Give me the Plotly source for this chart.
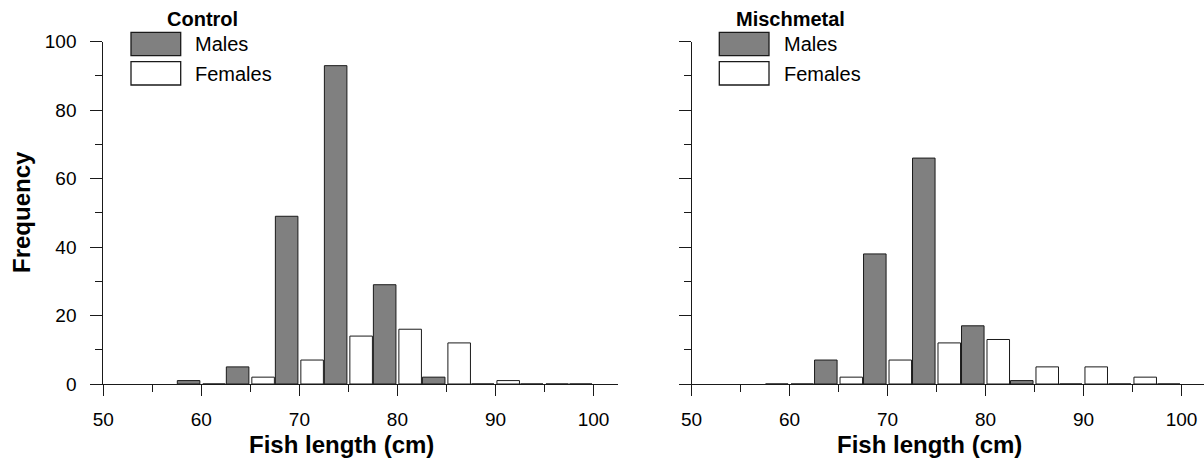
import plotly.graph_objects as go

# ---- data ----
bin_centers = [60, 65, 70, 75, 80, 85, 90, 95, 100]
control_males = [1, 5, 49, 93, 29, 2, 0, 0, 0]
control_females = [0, 2, 7, 14, 16, 12, 1, 0, None]
mischmetal_males = [0, 7, 38, 66, 17, 1, 0, 0, 0]
mischmetal_females = [0, 2, 7, 12, 13, 5, 5, 2, None]
panel_titles = ["Control", "Mischmetal"]
series_names = ["Males", "Females"]
x_ticks = [50, 60, 70, 80, 90, 100]
y_ticks = [0, 20, 40, 60, 80, 100]

W, H = 1204, 460
FONT = "Liberation Sans, Arial, Helvetica, sans-serif"
MALE_FILL = "#808080"
FEMALE_FILL = "#ffffff"
EDGE = "#1a1a1a"

def px(x):
    return x / W

def py(y):
    return 1 - y / H

# panel geometry (pixels)
y_top, y_bot = 41.7, 384.0
panels = [
    dict(x0=103.3, x1=618.0, xr=[50, 102.5]),
    dict(x0=691.6, x1=1204.0, xr=[50, 102.3]),
]

fig = go.Figure()

datasets = [(control_males, control_females), (mischmetal_males, mischmetal_females)]
for i, (males, females) in enumerate(datasets):
    xa = "x" if i == 0 else "x2"
    ya = "y" if i == 0 else "y2"
    fig.add_trace(go.Bar(
        x=bin_centers, y=males, name=series_names[0],
        offset=-2.45, width=2.3,
        marker=dict(color=MALE_FILL, line=dict(color=EDGE, width=1)),
        xaxis=xa, yaxis=ya, showlegend=False,
    ))
    fig.add_trace(go.Bar(
        x=bin_centers, y=females, name=series_names[1],
        offset=0.15, width=2.3,
        marker=dict(color=FEMALE_FILL, line=dict(color=EDGE, width=1)),
        xaxis=xa, yaxis=ya, showlegend=False,
    ))

def xaxis_cfg(p):
    return dict(
        domain=[px(p["x0"]), px(p["x1"])], range=p["xr"], automargin=False,
        tickvals=x_ticks, ticks="outside", ticklen=11, tickwidth=1, tickcolor=EDGE,
        minor=dict(tickvals=[55, 65, 75, 85, 95], ticks="outside", ticklen=7,
                   tickwidth=1, tickcolor=EDGE, showgrid=False),
        showline=True, linecolor=EDGE, linewidth=1,
        showgrid=False, zeroline=False,
        tickfont=dict(family=FONT, size=19, color="#000"),
        ticklabelstandoff=7,
    )

def yaxis_cfg(p, labels):
    return dict(
        domain=[py(y_bot), py(y_top)], range=[0, 100], automargin=False,
        tickvals=y_ticks, ticks="outside", ticklen=12, tickwidth=1, tickcolor=EDGE,
        minor=dict(tickvals=[10, 30, 50, 70, 90], ticks="outside", ticklen=7,
                   tickwidth=1, tickcolor=EDGE, showgrid=False),
        showline=True, linecolor=EDGE, linewidth=1,
        showgrid=False, zeroline=False, showticklabels=labels,
        tickfont=dict(family=FONT, size=19, color="#000"),
        ticklabelstandoff=10,
        anchor="x" if p is panels[0] else "x2",
    )

fig.update_layout(
    template="none",
    width=W, height=H,
    margin=dict(l=0, r=0, t=0, b=0, pad=0),
    paper_bgcolor="white", plot_bgcolor="white",
    barmode="overlay",
    xaxis=dict(**xaxis_cfg(panels[0]), anchor="y"),
    yaxis=yaxis_cfg(panels[0], True),
    xaxis2=dict(**xaxis_cfg(panels[1]), anchor="y2"),
    yaxis2=yaxis_cfg(panels[1], False),
    font=dict(family=FONT, color="#000"),
)

shapes = []
annotations = []
for i, p in enumerate(panels):
    dx = p["x0"] - panels[0]["x0"]
    # legend boxes
    shapes.append(dict(type="rect", xref="paper", yref="paper",
                       x0=px(131 + dx), x1=px(180.7 + dx), y0=py(55.7), y1=py(32.3),
                       fillcolor=MALE_FILL, line=dict(color=EDGE, width=1.3)))
    shapes.append(dict(type="rect", xref="paper", yref="paper",
                       x0=px(131 + dx), x1=px(180.7 + dx), y0=py(85), y1=py(61.7),
                       fillcolor=FEMALE_FILL, line=dict(color=EDGE, width=1.3)))
    annotations.append(dict(text=series_names[0], xref="paper", yref="paper",
                            x=px(193.3 + dx), y=py(44), xanchor="left", yanchor="middle",
                            showarrow=False, font=dict(family=FONT, size=20, color="#000")))
    annotations.append(dict(text=series_names[1], xref="paper", yref="paper",
                            x=px(193.3 + dx), y=py(73.5), xanchor="left", yanchor="middle",
                            showarrow=False, font=dict(family=FONT, size=20, color="#000")))
    annotations.append(dict(text="<b>" + panel_titles[i] + "</b>", xref="paper", yref="paper",
                            x=px(202 + dx), y=py(19), xanchor="center", yanchor="middle",
                            showarrow=False, font=dict(family=FONT, size=20, color="#000")))
    annotations.append(dict(text="<b>Fish length (cm)</b>", xref="paper", yref="paper",
                            x=px(341.3 + dx), y=py(444), xanchor="center", yanchor="middle",
                            showarrow=False, font=dict(family=FONT, size=24, color="#000")))

annotations.append(dict(text="<b>Frequency</b>", xref="paper", yref="paper",
                        x=px(21), y=py(212), xanchor="center", yanchor="middle", textangle=-90,
                        showarrow=False, font=dict(family=FONT, size=24, color="#000")))

fig.update_layout(shapes=shapes, annotations=annotations)
fig.write_html("out.html")
